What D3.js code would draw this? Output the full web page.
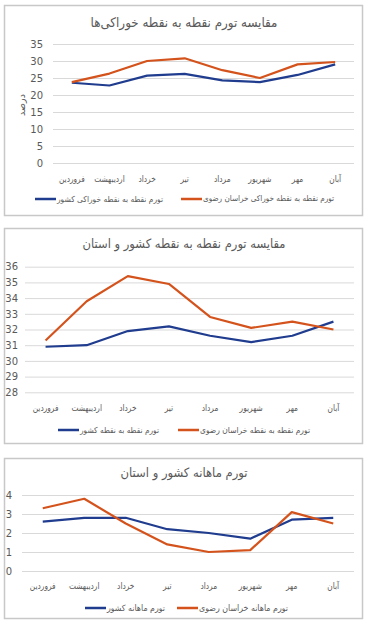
<!DOCTYPE html>
<html><head><meta charset="utf-8">
<script src="https://cdn.jsdelivr.net/npm/d3@7/dist/d3.min.js"></script>
<style>
html,body{margin:0;padding:0;background:#fff;}
svg{display:block;font-family:"DejaVu Sans",sans-serif;}
</style></head>
<body>
<svg id="c" width="368" height="624"></svg>
<script>
const months = ["فروردین","اردیبهشت","خرداد","تیر","مرداد","شهریور","مهر","آبان"];

const foodNational = [23.6, 22.8, 25.7, 26.2, 24.3, 23.8, 25.9, 29.0];
const foodKhorasan = [23.8, 26.3, 30.0, 30.8, 27.3, 25.0, 29.0, 29.7];
const pointNational = [30.9, 31.0, 31.9, 32.2, 31.6, 31.2, 31.6, 32.5];
const pointKhorasan = [31.3, 33.8, 35.4, 34.9, 32.8, 32.1, 32.5, 32.0];
const monthlyNational = [2.6, 2.8, 2.8, 2.2, 2.0, 1.7, 2.7, 2.8];
const monthlyKhorasan = [3.3, 3.8, 2.5, 1.4, 1.0, 1.1, 3.1, 2.5];

const ticks1 = [0, 5, 10, 15, 20, 25, 30, 35];
const ticks2 = [28, 29, 30, 31, 32, 33, 34, 35, 36];
const ticks3 = [0, 1, 2, 3, 4];

const titles = ["مقایسه تورم نقطه به نقطه خوراکی‌ها", "مقایسه تورم نقطه به نقطه کشور و استان", "تورم ماهانه کشور و استان"];
const legend1 = ["تورم نقطه به نقطه خوراکی کشور", "تورم نقطه به نقطه خوراکی خراسان رضوی"];
const legend2 = ["تورم نقطه به نقطه کشور", "تورم نقطه به نقطه خراسان رضوی"];
const legend3 = ["تورم ماهانه کشور", "تورم ماهانه خراسان رضوی"];
const yTitle1 = "درصد";

const BLUE = "#1f3c8e", ORANGE = "#d4531c", TXT = "#595959", GRID = "#d9d9d9";

const svg = d3.select("#c");

// size a text so its natural width is close to the target, then fit exactly
function fit(sel, target, baseSize) {
  sel.each(function () {
    const el = d3.select(this).attr("font-size", baseSize);
    const w = this.getComputedTextLength();
    const fs = baseSize * Math.min(1, (target * 1.1) / w);
    el.attr("font-size", fs);
    el.attr("textLength", target).attr("lengthAdjust", "spacingAndGlyphs");
  });
}

function chart(cfg) {
  const g = svg.append("g");
  g.append("rect").attr("x", 4.5).attr("y", cfg.boxY + 0.5).attr("width", 358).attr("height", cfg.boxH)
    .attr("fill", "#fff").attr("stroke", "#c8c8c8").attr("stroke-width", 1.5);
  g.append("text").attr("x", 184).attr("y", cfg.titleY).attr("text-anchor", "middle")
    .attr("dominant-baseline", "middle").attr("fill", TXT).text(cfg.title)
    .call(fit, cfg.titleW, 14);

  const x = d3.scaleBand().domain(months).range([cfg.x0, cfg.x1]);
  const y = d3.scaleLinear().domain(cfg.domain).range([cfg.yBot, cfg.yTop]);

  const ya = g.append("g").attr("transform", `translate(${cfg.x0},0)`)
    .call(d3.axisLeft(y).tickValues(cfg.ticks).tickSize(-(cfg.x1 - cfg.x0)).tickPadding(cfg.tickPad).tickFormat(d3.format("d")));
  ya.select(".domain").remove();
  ya.selectAll(".tick line").attr("stroke", GRID).attr("stroke-width", 1);
  ya.selectAll(".tick text").attr("fill", TXT).attr("font-size", 10).attr("font-family", "DejaVu Sans");

  const xa = g.append("g").attr("transform", `translate(0,${cfg.xLabY})`)
    .call(d3.axisBottom(x).tickSize(0).tickPadding(0));
  xa.select(".domain").remove();
  xa.selectAll(".tick text").attr("fill", TXT).attr("font-family", "DejaVu Sans").attr("dy", "0.32em")
    .each(function () {
      d3.select(this).attr("font-size", 10);
      const w = this.getComputedTextLength();
      d3.select(this).attr("font-size", 9).attr("textLength", w * 0.74).attr("lengthAdjust", "spacingAndGlyphs");
    });

  const line = d3.line().x((d, i) => x(months[i]) + x.bandwidth() / 2).y(d => y(d));
  g.append("path").datum(cfg.s1).attr("d", line).attr("fill", "none").attr("stroke", BLUE).attr("stroke-width", 2.2).attr("stroke-linejoin", "round");
  g.append("path").datum(cfg.s2).attr("d", line).attr("fill", "none").attr("stroke", ORANGE).attr("stroke-width", 2.2).attr("stroke-linejoin", "round");

  cfg.legendPos.forEach((lx, i) => {
    g.append("line").attr("x1", lx).attr("x2", lx + 21).attr("y1", cfg.legY).attr("y2", cfg.legY)
      .attr("stroke", i ? ORANGE : BLUE).attr("stroke-width", 2.5);
    g.append("text").attr("x", lx + 22).attr("y", cfg.legY).attr("dominant-baseline", "middle")
      .attr("fill", TXT).text(cfg.legend[i])
      .call(fit, cfg.legendW[i], 9.5);
  });

  if (cfg.yTitle) {
    g.append("text").attr("transform", `translate(${cfg.yTitleX},${cfg.yTitleY}) rotate(-90)`)
      .attr("text-anchor", "middle").attr("dominant-baseline", "middle")
      .attr("font-size", 9.5).attr("fill", TXT).text(cfg.yTitle);
  }
}

chart({boxY: 5, boxH: 210, title: titles[0], titleY: 23, titleW: 187,
  x0: 53, x1: 354, domain: [0, 35], yBot: 163, yTop: 44, ticks: ticks1, tickPad: 10,
  xLabY: 179, s1: foodNational, s2: foodKhorasan, legend: legend1, legendPos: [35, 181], legendW: [106, 131], legY: 199,
  yTitle: yTitle1, yTitleX: 22, yTitleY: 105});

chart({boxY: 228, boxH: 215, title: titles[1], titleY: 244, titleW: 203,
  x0: 25, x1: 354, domain: [28, 36], yBot: 392.3, yTop: 266.7, ticks: ticks2, tickPad: 7,
  xLabY: 408, s1: pointNational, s2: pointKhorasan, legend: legend2, legendPos: [58, 178], legendW: [79, 110], legY: 430});

chart({boxY: 458, boxH: 160, title: titles[2], titleY: 473, titleW: 127,
  x0: 22, x1: 354, domain: [0, 4], yBot: 571, yTop: 495, ticks: ticks3, tickPad: 10,
  xLabY: 586, s1: monthlyNational, s2: monthlyKhorasan, legend: legend3, legendPos: [85, 177], legendW: [58, 89], legY: 608});
</script>
</body></html>
